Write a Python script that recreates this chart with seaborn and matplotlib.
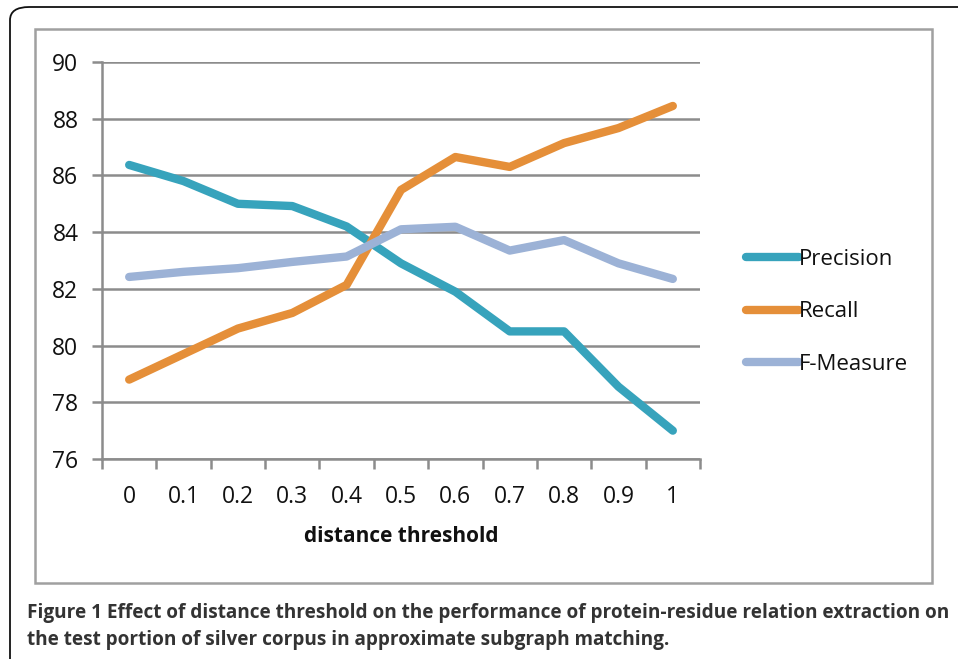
import numpy as np
import pandas as pd
import matplotlib
matplotlib.use("Agg")
import matplotlib.pyplot as plt
import seaborn as sns
from matplotlib.patches import FancyBboxPatch, Rectangle
from matplotlib.lines import Line2D

categories = ["0", "0.1", "0.2", "0.3", "0.4", "0.5", "0.6", "0.7", "0.8", "0.9", "1"]
precision = [86.37, 85.8, 85.0, 84.92, 84.2, 82.9, 81.9, 80.5, 80.5, 78.55, 77.0]
recall = [78.8, 79.7, 80.6, 81.15, 82.14, 85.49, 86.65, 86.3, 87.14, 87.67, 88.45]
fmeasure = [82.42, 82.6, 82.73, 82.95, 83.14, 84.1, 84.19, 83.35, 83.72, 82.9, 82.35]
series_names = ["Precision", "Recall", "F-Measure"]
colors = ["#37A3BC", "#E58F39", "#9CB2D6"]
yticks = [76, 78, 80, 82, 84, 86, 88, 90]

sns.set_theme(style="white")
plt.rcParams["font.family"] = ["Open Sans", "DejaVu Sans"]

pos = np.arange(len(categories))
df = pd.DataFrame({
    "pos": np.tile(pos, 3),
    "value": precision + recall + fmeasure,
    "series": np.repeat(series_names, len(categories)),
})

fig = plt.figure(figsize=(9.58, 6.59), dpi=100)
W, H = 958, 659

# outer rounded frame
fig.patches.append(FancyBboxPatch((10 / W, -0.05), 1.2, (659 - 7) / H + 0.05,
                                  boxstyle="round,pad=0,rounding_size=0.02",
                                  transform=fig.transFigure, fill=False,
                                  edgecolor="#111111", linewidth=1.3, zorder=0))
# chart border
fig.patches.append(Rectangle((35 / W, 1 - 583 / H), (932 - 35) / W, (583 - 29) / H,
                             transform=fig.transFigure, fill=False,
                             edgecolor="#a0a0a0", linewidth=1.8, zorder=0))

ax = fig.add_axes([102 / W, 1 - 459 / H, (700 - 102) / W, (459 - 62) / H])
sns.lineplot(data=df, x="pos", y="value", hue="series", palette=colors,
             hue_order=series_names, linewidth=6, ax=ax, legend=False,
             solid_capstyle="round", zorder=3)

ax.set_xlim(-0.5, len(categories) - 0.5)
ax.set_ylim(76, 90)
ax.set_yticks(yticks)
ax.set_yticklabels([str(t) for t in yticks], fontsize=16.5, color="#111111")
ax.set_xticks(pos)
ax.set_xticklabels(categories, fontsize=16.5, color="#111111")
ax.set_xticks(np.arange(-0.5, len(categories)), minor=True)
ax.tick_params(axis="x", which="major", length=0, pad=19)
ax.tick_params(axis="x", which="minor", length=7, width=1.8, color="#8c8c8c", direction="out", bottom=True)
ax.tick_params(axis="y", length=7, width=1.8, color="#8c8c8c", direction="out", left=True, pad=10)
ax.yaxis.grid(True, color="#8c8c8c", linewidth=1.8, zorder=1)
ax.set_axisbelow(True)
for s in ["top", "right"]:
    ax.spines[s].set_visible(False)
for s in ["left", "bottom"]:
    ax.spines[s].set_color("#8c8c8c")
    ax.spines[s].set_linewidth(1.8)
ax.set_xlabel("distance threshold", fontsize=15, fontweight="bold", color="#111111", labelpad=12)
ax.set_ylabel("")

# legend
handles = [Line2D([0], [0], color=c, linewidth=6, solid_capstyle="round") for c in colors]
leg = fig.legend(handles, series_names, loc="upper left", bbox_to_anchor=(737 / W, 1 - 240 / H),
                 frameon=False, fontsize=16, handlelength=2.4, handletextpad=0.0,
                 labelspacing=1.42, borderaxespad=0)
for t in leg.get_texts():
    t.set_color("#111111")

# caption
fig.text(27 / W, 1 - 613 / H,
         "Figure 1 Effect of distance threshold on the performance of protein-residue relation extraction on",
         fontsize=13.7, fontweight="bold", color="#333333", va="center", ha="left")
fig.text(27 / W, 1 - 640 / H,
         "the test portion of silver corpus in approximate subgraph matching.",
         fontsize=13.7, fontweight="bold", color="#333333", va="center", ha="left")

fig.savefig("out.png", dpi=100)
